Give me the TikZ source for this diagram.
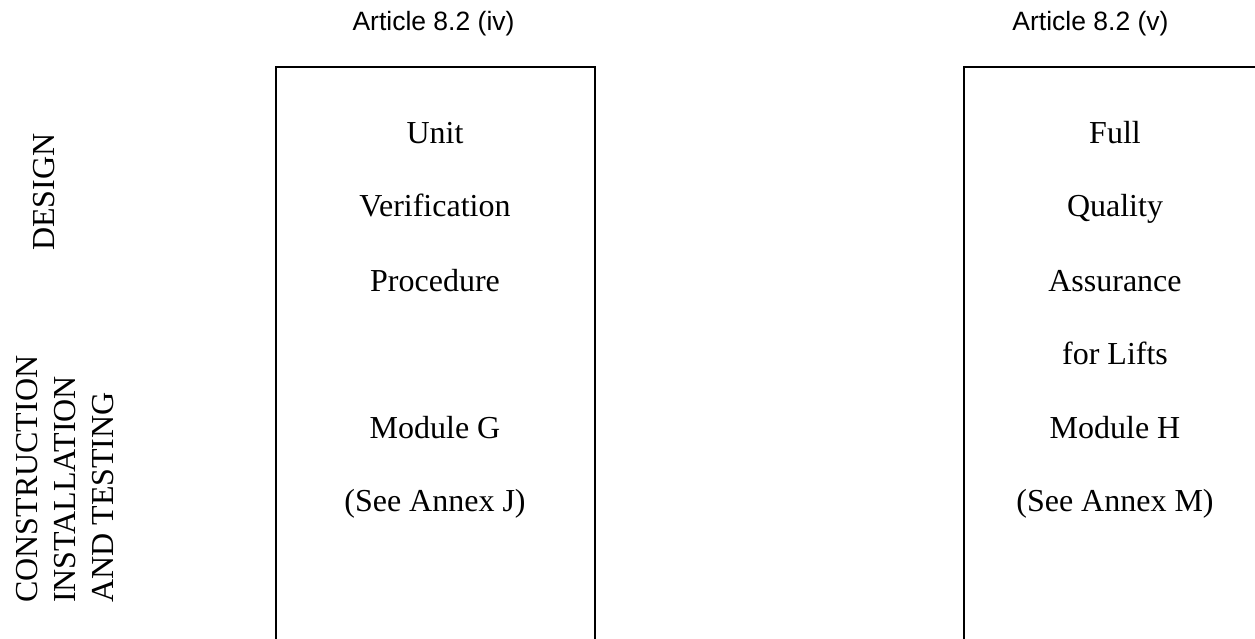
\documentclass[tikz,border=0pt]{standalone}
\usepackage{fontspec}
\setmainfont{Liberation Serif}
\newfontfamily\arialfont{Liberation Sans}
\begin{document}
\begin{tikzpicture}[x=1pt,y=-1pt,
  boxline/.style={draw=black,line width=1.8pt},
  art/.style={font=\arialfont\fontsize{26.5}{30}\selectfont,anchor=base,inner sep=0pt},
  body/.style={font=\fontsize{32}{36}\selectfont,anchor=base,inner sep=0pt},
  side/.style={font=\fontsize{32}{36}\selectfont,rotate=90,inner sep=0pt}]
\useasboundingbox (0,0) rectangle (1255,639);
\clip (0,0) rectangle (1255,639);
% boxes (open at the bottom edge of the picture)
\node[boxline,minimum width=319pt,minimum height=640pt,anchor=north west,inner sep=0pt] (boxG) at (275,66) {};
\node[boxline,minimum width=305pt,minimum height=640pt,anchor=north west,inner sep=0pt] (boxH) at (963,66) {};
% article labels
\node[art] (artiv) at (433.5,31) {Article 8.2 (iv)};
\node[art] (artv) at (1090.5,31) {Article 8.2 (v)};
% side labels
\node[side,anchor=base] (design) at (54,192) {DESIGN};
\node[side,anchor=base west] (cons) at (37,603) {CONSTRUCTION};
\node[side,anchor=base west] (inst) at (75,603) {INSTALLATION};
\node[side,anchor=base west] (test) at (113,603) {AND TESTING};
% left box text
\node[body] (g1) at (435,144) {Unit};
\node[body] (g2) at (435,217) {Verification};
\node[body] (g3) at (435,291) {Procedure};
\node[body] (g4) at (435,438) {Module G};
\node[body] (g5) at (435,511) {(See Annex J)};
% right box text
\node[body] (h1) at (1115,144) {Full};
\node[body] (h2) at (1115,217) {Quality};
\node[body] (h3) at (1115,291) {Assurance};
\node[body] (h4) at (1115,364) {for Lifts};
\node[body] (h5) at (1115,438) {Module H};
\node[body] (h6) at (1115,511) {(See Annex M)};
\end{tikzpicture}
\end{document}
